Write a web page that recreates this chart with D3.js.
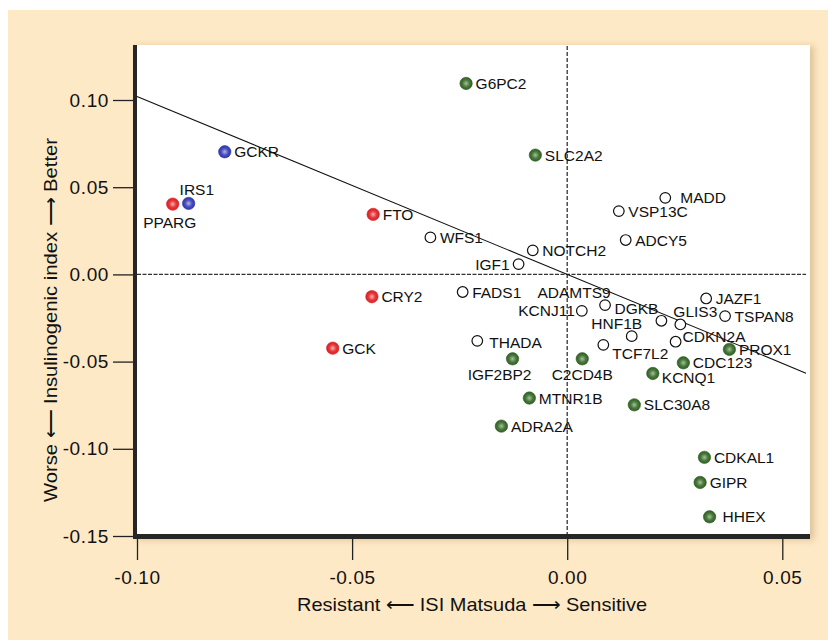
<!DOCTYPE html>
<html>
<head>
<meta charset="utf-8">
<script src="https://cdn.jsdelivr.net/npm/d3@7"></script>
<style>
  body { margin: 0; background: #ffffff; }
  svg { display: block; font-family: "Liberation Sans", Arial, Helvetica, sans-serif; }
</style>
</head>
<body>
<svg id="chart" width="828" height="640"></svg>
<script>
// values
const genes = ["G6PC2", "GCKR", "SLC2A2", "IRS1", "PPARG", "FTO", "MADD", "VSP13C", "WFS1",
  "ADCY5", "NOTCH2", "IGF1", "FADS1", "CRY2", "ADAMTS9", "KCNJ11", "JAZF1", "DGKB", "GLIS3",
  "TSPAN8", "HNF1B", "CDKN2A", "THADA", "TCF7L2", "GCK", "PROX1", "IGF2BP2", "C2CD4B",
  "CDC123", "KCNQ1", "MTNR1B", "SLC30A8", "ADRA2A", "CDKAL1", "GIPR", "HHEX"];

const isiMatsuda = [-0.0235, -0.0796, -0.0074, -0.0880, -0.0917, -0.0451, 0.0228, 0.0120, -0.0318,
  0.0136, -0.0080, -0.0113, -0.0243, -0.0454, 0.0088, 0.0034, 0.0323, 0.0219, 0.0263,
  0.0367, 0.0150, 0.0252, -0.0209, 0.0084, -0.0545, 0.0377, -0.0127, 0.0035,
  0.0270, 0.0199, -0.0088, 0.0156, -0.0153, 0.0319, 0.0309, 0.0331];

const insulinogenic = [0.1095, 0.0703, 0.0684, 0.0407, 0.0403, 0.0344, 0.0439, 0.0363, 0.0212,
  0.0197, 0.0138, 0.0059, -0.0101, -0.0128, -0.0176, -0.0209, -0.0138, -0.0266, -0.0287,
  -0.0239, -0.0354, -0.0386, -0.0381, -0.0404, -0.0423, -0.0430, -0.0484, -0.0484,
  -0.0507, -0.0568, -0.0709, -0.0748, -0.0870, -0.1049, -0.1193, -0.1390];

// g = green, r = red, b = blue, o = open circle
const cluster = ["g", "b", "g", "b", "r", "r", "o", "o", "o",
  "o", "o", "o", "o", "r", "o", "o", "o", "o", "o",
  "o", "o", "o", "o", "o", "r", "g", "g", "g",
  "g", "g", "g", "g", "g", "g", "g", "g"];

const xTicks = [-0.10, -0.05, 0.00, 0.05];
const yTicks = [0.10, 0.05, 0.00, -0.05, -0.10, -0.15];

const fitSlope = -1.02;
const fitIntercept = 0.0;

const xTitle = "Resistant \u27F5 ISI Matsuda \u27F6 Sensitive";
const yTitle = "Worse \u27F5 Insulinogenic index \u27F6 Better";

// label placement (layout only)
const labelPlace = {
  IRS1: { dx: -9, dy: -8 },
  PPARG: { dx: -3, dy: 24, anchor: "middle" },
  IGF1: { dx: -9, dy: 6, anchor: "end" },
  ADAMTS9: { dx: -31, dy: -7, anchor: "middle" },
  KCNJ11: { dx: -7, dy: 5, anchor: "end" },
  DGKB: { dx: -3, dy: -7, anchor: "end" },
  GLIS3: { dx: -7, dy: -7 },
  HNF1B: { dx: -15, dy: -7, anchor: "middle" },
  CDKN2A: { dx: 7, dy: 0 },
  TCF7L2: { dx: 9, dy: 14 },
  KCNQ1: { dx: 9, dy: 10 },
  IGF2BP2: { dx: -13, dy: 21, anchor: "middle" },
  C2CD4B: { dx: 0, dy: 21, anchor: "middle" },
  MADD: { dx: 15 },
  HHEX: { dx: 13 },
  THADA: { dx: 12, dy: 7 },
};

const colors = {
  g: { edge: "#2f5e23", mid: "#4a7a3c", center: "#a9bfa0" },
  r: { edge: "#d81e22", mid: "#e8373a", center: "#f2b4b4" },
  b: { edge: "#2f33a6", mid: "#4a50c0", center: "#b3b6e6" },
};

const points = genes.map((name, i) => ({
  name: name,
  x: isiMatsuda[i],
  y: insulinogenic[i],
  c: cluster[i],
}));

const svg = d3.select("#chart");

// scales
const x = d3.scaleLinear().domain([-0.10, 0.05]).range([137, 782.3]);
const y = d3.scaleLinear().domain([-0.15, 0.10]).range([536, 100]);

const box = { left: 133, right: 810, top: 45, bottom: 539 };

// defs: gradients + shadow
const defs = svg.append("defs");
Object.keys(colors).forEach((k) => {
  const g = defs.append("radialGradient")
    .attr("id", "grad-" + k)
    .attr("cx", "50%").attr("cy", "50%").attr("r", "50%");
  g.append("stop").attr("offset", "0%").attr("stop-color", colors[k].center);
  g.append("stop").attr("offset", "55%").attr("stop-color", colors[k].mid);
  g.append("stop").attr("offset", "100%").attr("stop-color", colors[k].edge);
});
const shadow = defs.append("filter").attr("id", "shadow")
  .attr("x", "-5%").attr("y", "-5%").attr("width", "112%").attr("height", "112%");
shadow.append("feDropShadow")
  .attr("dx", 4).attr("dy", 1).attr("stdDeviation", 3.5)
  .attr("flood-color", "#b8925a").attr("flood-opacity", 0.45);

// background panel
svg.append("rect")
  .attr("x", 8).attr("y", 10).attr("width", 820).attr("height", 630)
  .attr("fill", "#fee9c6");

// plot box
svg.append("rect")
  .attr("x", box.left).attr("y", box.top)
  .attr("width", box.right - box.left).attr("height", box.bottom - box.top)
  .attr("fill", "#ffffff")
  .attr("filter", "url(#shadow)");

svg.append("rect")
  .attr("x", box.left).attr("y", box.top)
  .attr("width", 4).attr("height", box.bottom - box.top)
  .attr("fill", "#262626");
svg.append("rect")
  .attr("x", box.left).attr("y", box.bottom - 5)
  .attr("width", box.right - box.left).attr("height", 5)
  .attr("fill", "#262626");

// axes
const fmt = (d) => (d < 0 ? "-" : "") + Math.abs(d).toFixed(2);

const yAxis = svg.append("g")
  .attr("transform", `translate(${box.left},0)`)
  .call(d3.axisLeft(y).tickValues(yTicks).tickFormat(fmt).tickSize(20).tickPadding(4));
const xAxis = svg.append("g")
  .attr("transform", `translate(0,${box.bottom})`)
  .call(d3.axisBottom(x).tickValues(xTicks).tickFormat(fmt).tickSize(21).tickPadding(11));

[xAxis, yAxis].forEach((a) => {
  a.select(".domain").remove();
  a.selectAll(".tick line").attr("stroke", "#222").attr("stroke-width", 1.3);
  a.selectAll(".tick text")
    .attr("fill", "#111")
    .style("font-family", "'Liberation Sans', Arial, sans-serif")
    .style("font-size", "19px")
    .style("letter-spacing", "0.6px");
});

// reference lines
svg.append("line")
  .attr("x1", x(0)).attr("x2", x(0))
  .attr("y1", box.top + 1).attr("y2", box.bottom - 5)
  .attr("stroke", "#333").attr("stroke-width", 1.3)
  .attr("stroke-dasharray", "4,2");
svg.append("line")
  .attr("x1", box.left + 4).attr("x2", box.right - 4)
  .attr("y1", y(0)).attr("y2", y(0))
  .attr("stroke", "#333").attr("stroke-width", 1.2)
  .attr("stroke-dasharray", "4,1.5");

// regression line
const fitX = [-0.10, x.invert(box.right - 4)];
svg.append("path")
  .datum(fitX)
  .attr("fill", "none")
  .attr("stroke", "#111")
  .attr("stroke-width", 1.1)
  .attr("d", d3.line().x((d) => x(d)).y((d) => y(fitSlope * d + fitIntercept)));

// markers
svg.append("g").selectAll("circle")
  .data(points)
  .enter()
  .append("circle")
  .attr("cx", (d) => x(d.x))
  .attr("cy", (d) => y(d.y))
  .attr("r", (d) => (d.c === "o" ? 5.3 : 6.2))
  .attr("fill", (d) => (d.c === "o" ? "#ffffff" : `url(#grad-${d.c})`))
  .attr("stroke", (d) => (d.c === "o" ? "#111" : colors[d.c].edge))
  .attr("stroke-width", (d) => (d.c === "o" ? 1.2 : 0.6));

// labels
svg.append("g").selectAll("text")
  .data(points)
  .enter()
  .append("text")
  .attr("x", (d) => x(d.x) + ((labelPlace[d.name] || {}).dx ?? 9.5))
  .attr("y", (d) => y(d.y) + ((labelPlace[d.name] || {}).dy ?? 5.5))
  .attr("text-anchor", (d) => (labelPlace[d.name] || {}).anchor || "start")
  .attr("fill", "#111")
  .style("font-size", "15.5px")
  .text((d) => d.name);

// axis titles
svg.append("text")
  .attr("x", 472).attr("y", 611)
  .attr("text-anchor", "middle")
  .attr("textLength", 350).attr("lengthAdjust", "spacingAndGlyphs")
  .attr("fill", "#111")
  .style("font-size", "19px")
  .text(xTitle);

svg.append("text")
  .attr("transform", "translate(57,320) rotate(-90)")
  .attr("text-anchor", "middle")
  .attr("textLength", 364).attr("lengthAdjust", "spacingAndGlyphs")
  .attr("fill", "#111")
  .style("font-size", "19px")
  .text(yTitle);
</script>
</body>
</html>
